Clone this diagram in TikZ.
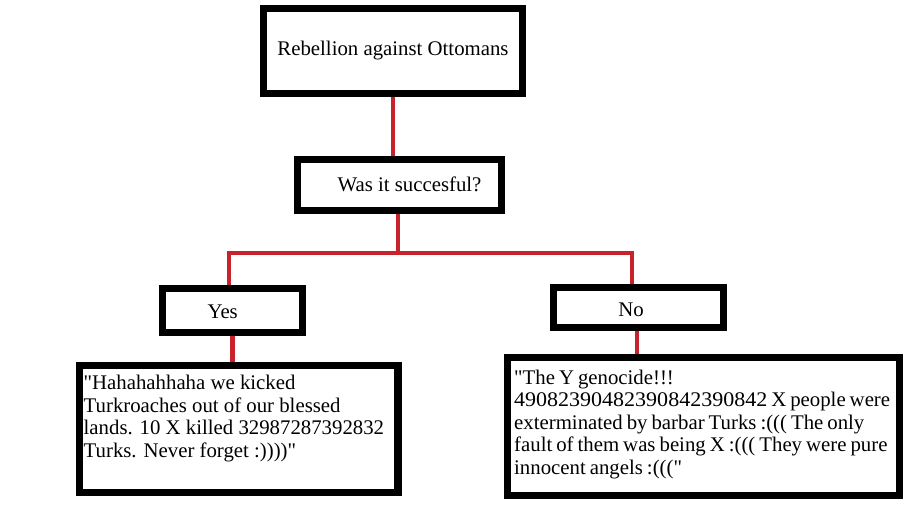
\documentclass[tikz,border=0pt]{standalone}
\usepackage{fontspec}
\usepackage{graphicx}
\setmainfont{Liberation Serif}[Ligatures=TeXOff]
\definecolor{linkred}{RGB}{200,35,45}
\newcommand{\dq}{\symbol{34}}
\begin{document}
\begin{tikzpicture}[x=1pt,y=-1pt,
  box/.style={draw=black,line width=4.8pt,fill=white,inner sep=0pt,font=\fontsize{20.8}{22.5}\selectfont},
  lbl/.style={inner sep=0pt,font=\fontsize{20.8}{22.5}\selectfont},
  para/.style={inner sep=0pt,align=left,anchor=north west,font=\fontsize{20.8}{22.5}\selectfont},
  conn/.style={draw=linkred,line width=4.5pt}]
\useasboundingbox[fill=white] (0,0) rectangle (907,514);
% boxes
\node[box,minimum width=256pt,minimum height=82.5pt] (top) at (393,50.75) {Rebellion against Ottomans};
\node[box,minimum width=201pt,minimum height=48pt] (q) at (399.5,185) {};
\node[box,minimum width=137pt,minimum height=41pt] (yes) at (232.5,310.5) {};
\node[box,minimum width=167pt,minimum height=37pt] (no) at (638.5,307.5) {};
\node[box,minimum width=315.7pt,minimum height=124pt] (bl) at (238.85,429) {};
\node[box,minimum width=389.5pt,minimum height=135.5pt] (br) at (703.75,426.75) {};
% connectors
\coordinate (j) at (398,253);
\draw[conn] (top.south) -- (top.south |- q.north);
\draw[conn] (q.south -| j) -- (j);
\draw[conn] ([xshift=-3.5pt]yes.north) |- (j) -| ([xshift=-6.5pt]no.north);
\draw[conn] (yes.south) -- (yes.south |- bl.north);
\draw[conn] ([xshift=-1.5pt]no.south) -- ([xshift=-1.5pt]no.south |- br.north);
% redraw box borders over connector ends
\foreach \n in {top,q,yes,no,bl,br} {\draw[line width=4.8pt] (\n.north west) rectangle (\n.south east);}
% texts
\node[lbl,anchor=base] (qt) at (409.5,191.7) {Was it succesful?};
\node[lbl,anchor=base] (yt) at (222.7,318.3) {Yes};
\node[lbl,anchor=base] (nt) at (631,316) {No};
\node[para] (blt) at (83.5,375) {\dq Hahahahhaha we kicked\\Turkroaches out of our blessed\\lands. 10 X killed 32987287392832\\Turks. Never forget :))))\dq};
\node[para,font={\fontsize{20.8}{22.5}\selectfont\spaceskip=4pt\relax}] (brt) at (514,369.5) {\dq The Y genocide!!!\\\scalebox{1.058}[1]{49082390482390842390842} X people were\\exterminated by barbar Turks :((( The only\\fault of them was being X :((( They were pure\\innocent angels :(((\dq};
\end{tikzpicture}
\end{document}
